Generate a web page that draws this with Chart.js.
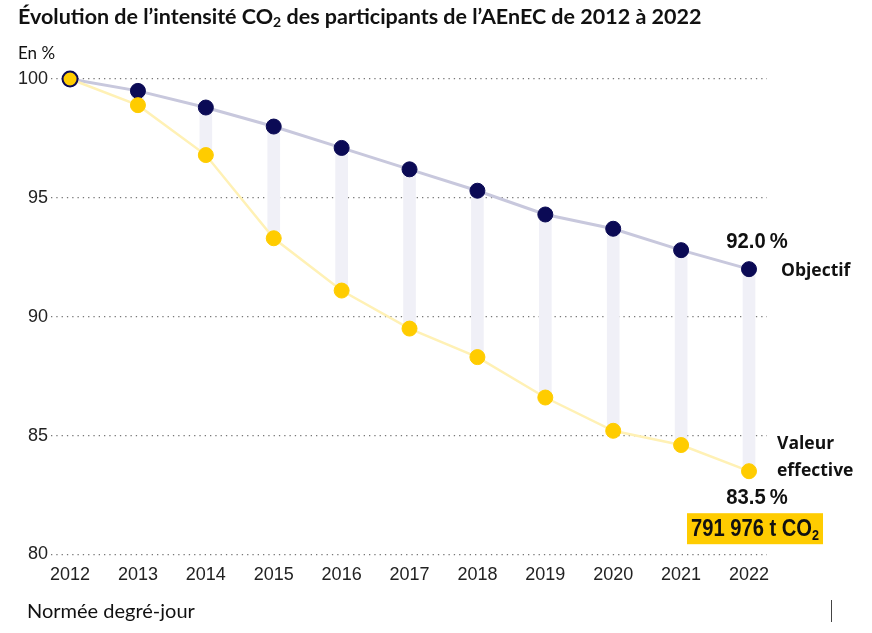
<!DOCTYPE html>
<html lang="fr">
<head>
<meta charset="UTF-8">
<title>Évolution de l'intensité CO2 des participants de l'AEnEC</title>
<script src="https://cdn.jsdelivr.net/npm/chart.js"></script>
<style>
  html, body { margin: 0; padding: 0; background: #fff; }
  #wrap { position: relative; width: 872px; height: 633px; }
  #titre { position: absolute; left: 18px; top: 3px; font: bold 21.5px Lato, "Open Sans", sans-serif; color: #111; white-space: nowrap; }
  #titre sub { font-size: 14px; vertical-align: -3px; line-height: 0; }
  #unite { position: absolute; left: 18px; top: 42px; font: 17px Lato, "Open Sans", sans-serif; color: #111; }
  #note { position: absolute; left: 27px; top: 598px; font: 20px Lato, "Open Sans", sans-serif; color: #111; }
  #trait { position: absolute; left: 831px; top: 600px; width: 1px; height: 22px; background: #444; }
  canvas { position: absolute; left: 0; top: 0; }
</style>
</head>
<body>
<div id="wrap">
  <canvas id="chart" width="872" height="633"></canvas>
  <div id="titre">Évolution de l’intensité CO<sub>2</sub> des participants de l’AEnEC de 2012 à 2022</div>
  <div id="unite">En %</div>
  <div id="note">Normée degré-jour</div>
  <div id="trait"></div>
</div>

<script>
// données (en %)
const annees   = [2012, 2013, 2014, 2015, 2016, 2017, 2018, 2019, 2020, 2021, 2022];
const objectif = [100, 99.5, 98.8, 98.0, 97.1, 96.2, 95.3, 94.3, 93.7, 92.8, 92.0];
const effectif = [100, 98.9, 96.8, 93.3, 91.1, 89.5, 88.3, 86.6, 85.2, 84.6, 83.5];
const ticksY   = [80, 85, 90, 95, 100];
const emissions2022 = '791 976 t CO';

const NAVY = '#0b0a55';
const JAUNE = '#ffcc00';

// texte étroit : on compresse horizontalement
function texteEtroit(ctx, txt, x, y, sx) {
  ctx.save();
  ctx.translate(x, y);
  ctx.scale(sx, 1);
  ctx.fillText(txt, 0, 0);
  ctx.restore();
}

// textes à droite de la dernière année
const annotations = {
  id: 'annotations',
  afterDatasetsDraw(chart) {
    const ctx = chart.ctx;
    const x = chart.scales.x.getPixelForValue(annees[annees.length - 1]);
    const yObj = chart.scales.y.getPixelForValue(objectif[objectif.length - 1]);
    const yEff = chart.scales.y.getPixelForValue(effectif[effectif.length - 1]);
    const helv = '"Liberation Sans", Arial, sans-serif';
    ctx.save();
    ctx.fillStyle = '#111';
    ctx.textBaseline = 'middle';

    ctx.textAlign = 'center';
    ctx.font = 'bold 22px ' + helv;
    texteEtroit(ctx, objectif[objectif.length - 1].toFixed(1) + '\u2009%', x + 8, yObj - 27, 0.92);
    texteEtroit(ctx, effectif[effectif.length - 1].toFixed(1) + '\u2009%', x + 8, yEff + 27, 0.92);

    ctx.textAlign = 'left';
    ctx.font = 'bold 17.5px "Open Sans", Lato, sans-serif';
    ctx.fillText('Objectif', x + 32, yObj + 2);
    ctx.fillText('Valeur', x + 28, yEff - 27);
    ctx.fillText('effective', x + 28, yEff);

    // encadré jaune
    ctx.fillStyle = JAUNE;
    ctx.fillRect(x - 62, yEff + 42, 136, 31);
    ctx.fillStyle = '#111';
    const sx = 0.84;
    ctx.font = 'bold 24px ' + helv;
    const w = ctx.measureText(emissions2022).width * sx;
    ctx.font = 'bold 15px ' + helv;
    const ws = ctx.measureText('2').width * sx;
    const x0 = x + 6 - (w + ws) / 2;
    ctx.font = 'bold 24px ' + helv;
    texteEtroit(ctx, emissions2022, x0, yEff + 58, sx);
    ctx.font = 'bold 15px ' + helv;
    texteEtroit(ctx, '2', x0 + w, yEff + 65, sx);
    ctx.restore();
  }
};

new Chart(document.getElementById('chart'), {
  data: {
    datasets: [
      {
        type: 'bar',
        label: 'Écart',
        data: annees.map((a, i) => ({ x: a, y: [effectif[i], objectif[i]] })),
        backgroundColor: '#f0f0f7',
        barThickness: 12,
        order: 3
      },
      {
        type: 'line',
        label: 'Objectif',
        data: annees.map((a, i) => ({ x: a, y: objectif[i] })),
        borderColor: '#c8c8dd',
        borderWidth: 3,
        pointRadius: 7.5,
        pointBackgroundColor: NAVY,
        pointBorderColor: NAVY,
        pointBorderWidth: 1,
        clip: false,
        order: 2
      },
      {
        type: 'line',
        label: 'Valeur effective',
        data: annees.map((a, i) => ({ x: a, y: effectif[i] })),
        borderColor: '#fff1b5',
        borderWidth: 2.5,
        pointRadius: 7.5,
        pointBackgroundColor: JAUNE,
        pointBorderColor: annees.map((a, i) => i === 0 ? NAVY : JAUNE),
        pointBorderWidth: annees.map((a, i) => i === 0 ? 2 : 1),
        clip: false,
        order: 1
      }
    ]
  },
  options: {
    responsive: false,
    animation: false,
    layout: { padding: { left: 15, right: 105, top: 79, bottom: 37 } },
    plugins: { legend: { display: false }, tooltip: { enabled: false } },
    scales: {
      x: {
        type: 'linear',
        offset: false,
        min: 2011.72,
        max: 2022.265,
        afterBuildTicks: s => { s.ticks = annees.map(v => ({ value: v })); },
        grid: { display: false, drawTicks: false, offset: false },
        border: { display: false },
        ticks: {
          padding: 10,
          color: '#222',
          font: { family: '"Liberation Sans", Arial, sans-serif', size: 18 },
          callback: v => String(v)
        }
      },
      y: {
        min: 80,
        max: 100,
        afterBuildTicks: s => { s.ticks = ticksY.map(v => ({ value: v })); },
        grid: { color: '#777', lineWidth: 1.3, drawTicks: false },
        border: { display: false, dash: [1.3, 4] },
        ticks: {
          padding: 3,
          color: '#222',
          font: { family: '"Liberation Sans", Arial, sans-serif', size: 18 }
        }
      }
    }
  },
  plugins: [annotations]
});
</script>
</body>
</html>
